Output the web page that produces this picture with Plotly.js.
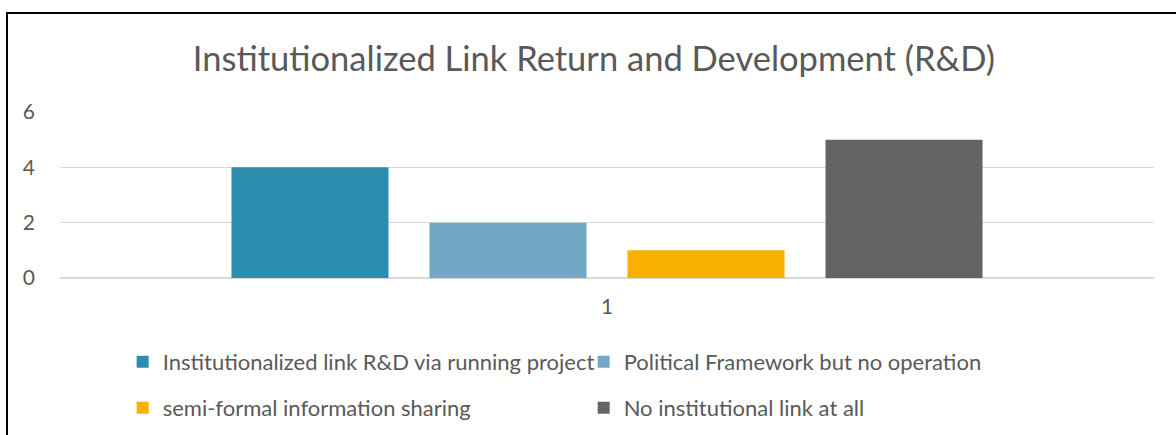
<!DOCTYPE html>
<html>
<head>
<meta charset="utf-8">
<script src="https://cdn.plot.ly/plotly-3.0.1.min.js"></script>
<style>
  body { margin: 0; background: #fff; }
  #chart { width: 1176px; height: 435px; }
  #frame { position: absolute; left: 6px; top: 12px; width: 1200px; height: 500px;
           border: 2px solid #000; pointer-events: none; }
</style>
</head>
<body>
<div id="chart"></div>
<div id="frame"></div>
<script>
// one category on the x axis, four series
const categories = ["1"];
const seriesNames = [
    "Institutionalized link R&D via running project",
    "Political Framework but no operation",
    "semi-formal information sharing",
    "No institutional link at all"
];
const seriesValues = [4, 2, 1, 5];
const seriesColors = ["#2a8faf", "#71a8c4", "#f9b000", "#636466"];
// first two series on legend row one, the rest on row two
const legendRows = ["legend", "legend", "legend2", "legend2"];

const textColor = "#595959";

const traces = seriesNames.map((name, i) => ({
    type: "bar",
    name: name,
    x: categories,
    y: [seriesValues[i]],
    marker: { color: seriesColors[i] },
    legend: legendRows[i],
    hoverinfo: "y+name"
}));

const legendBase = {
    orientation: "h",
    xref: "container",
    yref: "container",
    x: 0.1043, xanchor: "left",
    yanchor: "middle",
    entrywidth: 416,
    entrywidthmode: "pixels",
    font: { size: 22, color: textColor },
    itemwidth: 30,
    bgcolor: "rgba(0,0,0,0)"
};

const layout = {
    width: 1176,
    height: 435,
    margin: { l: 60, r: 22, t: 112, b: 157 },
    paper_bgcolor: "#fff",
    plot_bgcolor: "#fff",
    font: { family: "Lato, sans-serif", color: textColor, size: 21 },
    title: {
        text: "Institutionalized Link Return and Development (R&D)",
        font: { size: 34.5, color: textColor },
        x: 0.505, xanchor: "center",
        y: 0.865, yanchor: "middle"
    },
    barmode: "group",
    bargap: 0.276,
    bargroupgap: 0.207,
    xaxis: {
        type: "category",
        showgrid: false,
        zeroline: false,
        showline: false,
        ticks: "",
        ticklabelstandoff: 14,
        tickfont: { size: 21 }
    },
    yaxis: {
        range: [0, 6],
        dtick: 2,
        showgrid: true,
        gridcolor: "#d9d9d9",
        gridwidth: 1.5,
        zeroline: true,
        zerolinecolor: "#d9d9d9",
        zerolinewidth: 1.5,
        showline: false,
        ticks: "",
        ticklabelstandoff: 24,
        tickfont: { size: 21 }
    },
    legend: Object.assign({}, legendBase, { y: 1 - 362 / 435 }),
    legend2: Object.assign({}, legendBase, { y: 1 - 408 / 435 }),
    showlegend: true
};

Plotly.newPlot("chart", traces, layout, { displayModeBar: false, staticPlot: true });
</script>
</body>
</html>
